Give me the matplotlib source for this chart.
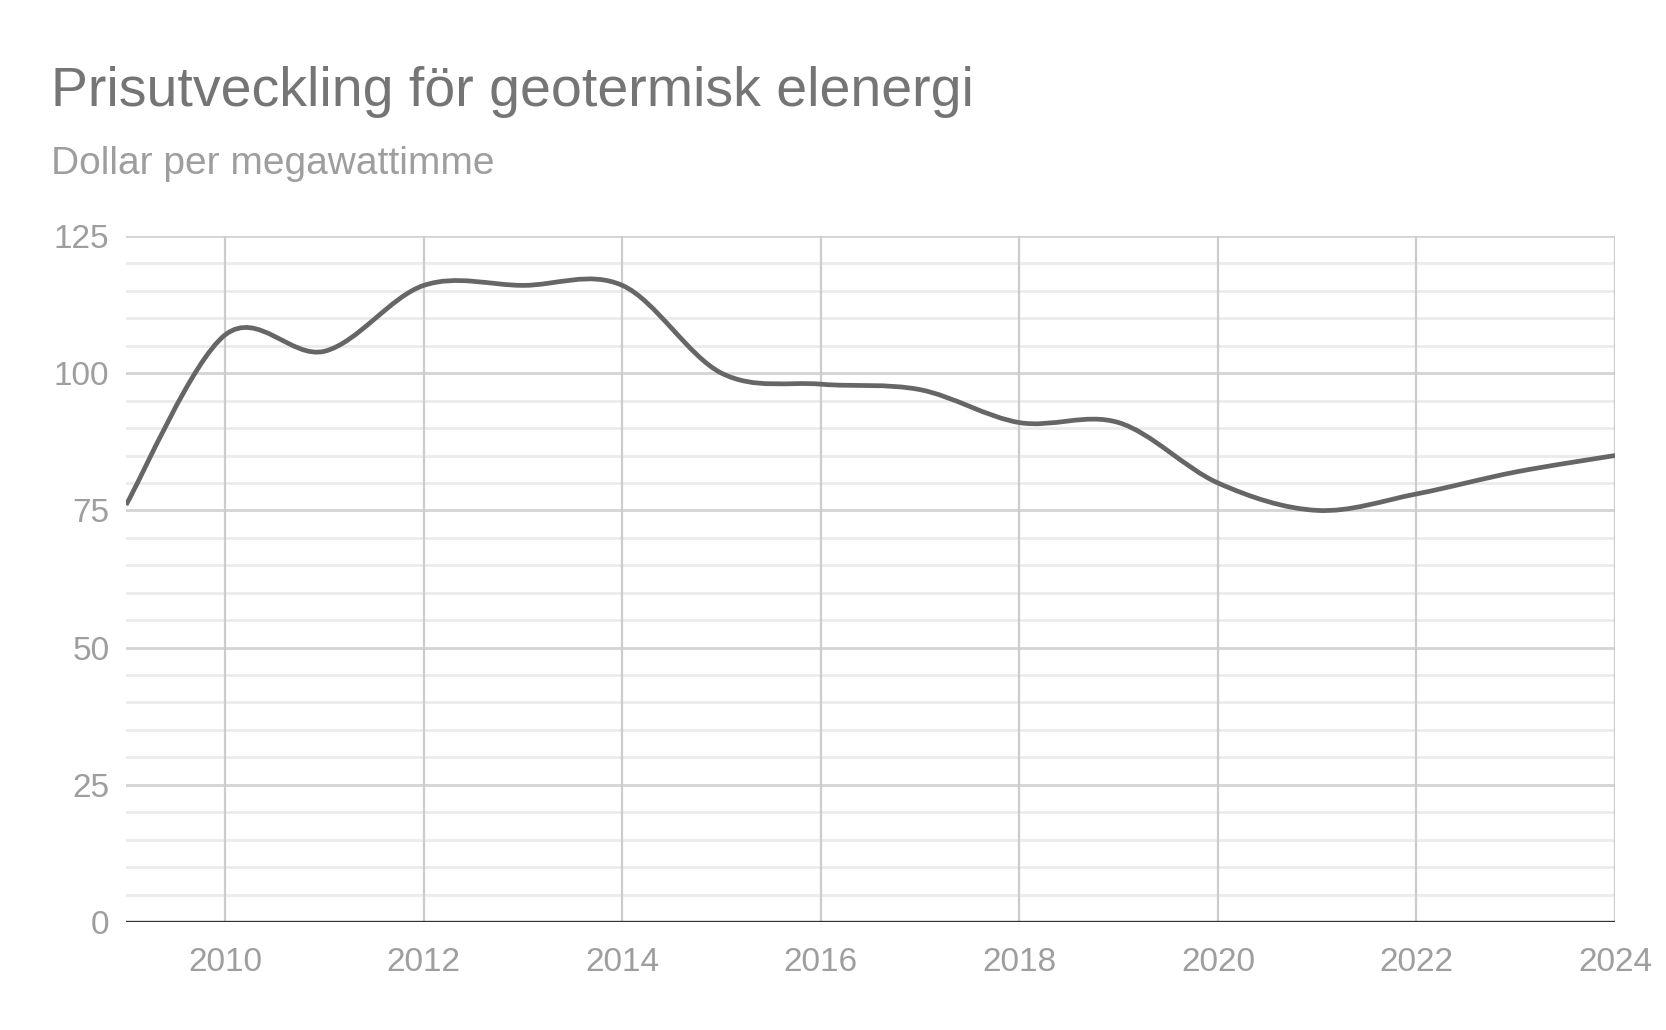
import matplotlib
matplotlib.use("Agg")
import matplotlib.pyplot as plt
from matplotlib.path import Path
from matplotlib.patches import PathPatch
import numpy as np

plt.rcParams['font.family'] = ['Liberation Sans', 'DejaVu Sans']

years = [2009, 2010, 2011, 2012, 2013, 2014, 2015, 2016, 2017, 2018, 2019, 2020, 2021, 2022, 2023, 2024]
price = [76, 107, 104, 116, 116, 116, 100, 98, 97, 91, 91, 80, 75, 78, 82, 85]
x_ticks = [2010, 2012, 2014, 2016, 2018, 2020, 2022, 2024]
y_ticks = [0, 25, 50, 75, 100, 125]

title = "Prisutveckling för geotermisk elenergi"
subtitle = "Dollar per megawattimme"

fig = plt.figure(figsize=(16.66, 10.30), dpi=100)
ax = fig.add_axes([126/1666, 1-922/1030, (1615-126)/1666, (922-236)/1030])

# minor grid every 5
for v in range(5, 125, 5):
    if v % 25 != 0:
        ax.axhline(v, color='#ebebeb', lw=2.0, zorder=1)
for v in y_ticks[1:]:
    ax.axhline(v, color='#d4d4d4', lw=2.0, zorder=1)
for xv in x_ticks:
    ax.axvline(xv, color='#cccccc', lw=1.6, zorder=1)

# smooth curve (Catmull-Rom bezier through the yearly values)
xs = np.array(years, dtype=float)
ys = np.array(price, dtype=float)
n = len(xs)
verts = [(xs[0], ys[0])]
codes = [Path.MOVETO]
for i in range(n - 1):
    p0 = (xs[max(i-1, 0)], ys[max(i-1, 0)])
    p1 = (xs[i], ys[i])
    p2 = (xs[i+1], ys[i+1])
    p3 = (xs[min(i+2, n-1)], ys[min(i+2, n-1)])
    c1 = (p1[0] + (p2[0]-p0[0])/6, p1[1] + (p2[1]-p0[1])/6)
    c2 = (p2[0] - (p3[0]-p1[0])/6, p2[1] - (p3[1]-p1[1])/6)
    verts += [c1, c2, p2]
    codes += [Path.CURVE4]*3
patch = PathPatch(Path(verts, codes), facecolor='none', edgecolor='#666666', lw=3.4,
                  capstyle='butt', joinstyle='round', zorder=3)
ax.add_patch(patch)

ax.axhline(0, color='#333333', lw=2.4, zorder=4)

ax.set_xlim(2009, 2024)
ax.set_ylim(0, 125)
ax.set_xticks(x_ticks)
ax.set_yticks(y_ticks)
for s in ax.spines.values():
    s.set_visible(False)
ax.tick_params(length=0, labelsize=24, colors='#9e9e9e', pad=12)
ax.tick_params(axis='x', pad=18)

fig.text(51/1666, 1-106/1030, title, fontsize=40, color='#757575', ha='left', va='baseline')
fig.text(51/1666, 1-174/1030, subtitle, fontsize=28, color='#9e9e9e', ha='left', va='baseline')

fig.savefig("out.png", dpi=100, facecolor='white')
